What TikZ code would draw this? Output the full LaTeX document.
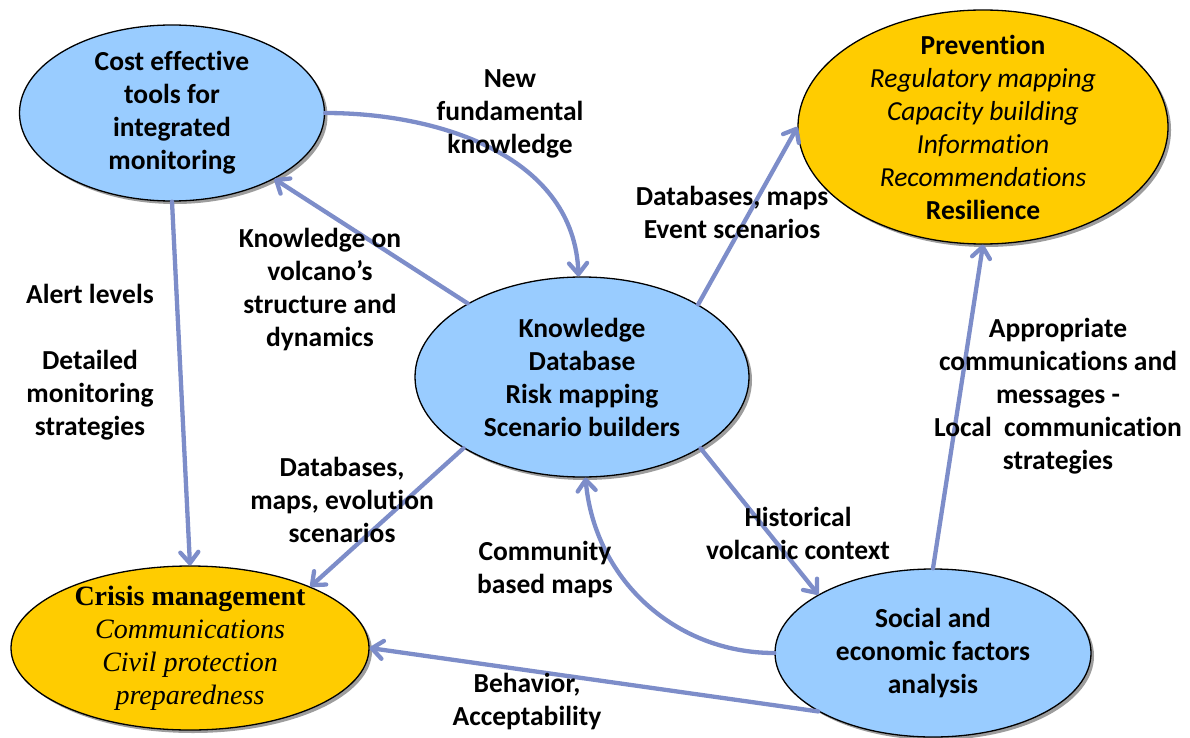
\documentclass[tikz,border=0pt]{standalone}
\usepackage{fontspec}
\setmainfont[Ligatures={NoCommon}]{Carlito}
\newfontfamily\timesf{Liberation Serif}
\usetikzlibrary{shapes.geometric,arrows.meta,shadows}
\definecolor{bluefill}{RGB}{153,204,255}
\definecolor{orfill}{RGB}{255,204,0}
\definecolor{arrc}{RGB}{125,141,201}
\begin{document}
\begin{tikzpicture}[x=1pt,y=1pt,
  ell/.style={ellipse, draw=black, line width=1.3pt, inner sep=0pt,
    drop shadow={shadow xshift=3pt,shadow yshift=-3pt,opacity=0.55,fill=black!70}},
  bell/.style={ell, fill=bluefill},
  oell/.style={ell, fill=orfill},
  txt/.style={font=\fontsize{27.5}{33}\selectfont\bfseries, align=center, inner sep=0pt},
  arr/.style={draw=arrc, line width=4.3pt, line cap=round,
    -{Straight Barb[length=11pt,width=18pt,round]}},
]
\useasboundingbox (0,0) rectangle (1190,-738);

% ellipses
\node[bell, minimum width=305pt, minimum height=176pt] (cost) at (172,-113) {};
\node[oell, minimum width=370pt, minimum height=234pt] (prev) at (983,-127) {};
\node[bell, minimum width=334pt, minimum height=200pt] (know) at (582,-377) {};
\node[oell, minimum width=358pt, minimum height=164pt] (crisis) at (190,-648) {};
\node[bell, minimum width=316pt, minimum height=168pt] (social) at (933,-653) {};

% connectors
\draw[arr] (cost.0) to[out=0,in=92] (know.92);
\draw[arr] (know) -- (cost);
\draw[arr] (cost.south) -- (crisis.north);
\draw[arr] (know.32) -- (prev.180);
\draw[arr] (know.211) -- (crisis.27);
\draw[arr] (know.329) -- (social.153);
\draw[arr] (social.180) to[out=180,in=-85] (know.-88);
\draw[arr] (social.north) -- (prev.south);
\draw[arr] (social.207) -- (crisis.0);

% ellipse texts
\node[txt] (costtxt) at (cost.center) {Cost effective\\tools for\\integrated\\monitoring};
\node[txt] (prevtxt) at (prev.center) {Prevention\\{\mdseries\itshape Regulatory mapping}\\{\mdseries\itshape Capacity building}\\{\mdseries\itshape Information}\\{\mdseries\itshape Recommendations}\\Resilience};
\node[txt] (knowtxt) at (know.center) {Knowledge\\Database\\Risk mapping\\Scenario builders};
\node[txt, font=\fontsize{28}{33}\selectfont\timesf] (crisistxt) at (crisis.center) {\textbf{Crisis management}\\\textit{Communications}\\\textit{Civil protection}\\\textit{preparedness}};
\node[txt] (socialtxt) at (social.center) {Social and\\economic factors\\analysis};

% connector labels
\node[txt] (l1) at (510,-114) {New\\fundamental\\knowledge};
\node[txt] (l2) at (320,-290) {Knowledge on\\volcano’s\\structure and\\dynamics};
\node[txt] (l3) at (90,-362) {Alert levels\\[33pt]Detailed\\monitoring\\strategies};
\node[txt] (l4) at (732,-212) {Databases, maps\\Event scenarios};
\node[txt] (l5) at (1058,-396) {Appropriate\\communications and\\messages -\\Local\ \ communication\\strategies};
\node[txt] (l6) at (342,-500) {Databases,\\maps, evolution\\scenarios};
\node[txt] (l7) at (798,-533) {Historical\\volcanic context};
\node[txt] (l8) at (545,-570) {Community\\based maps};
\node[txt] (l9) at (527,-702) {Behavior,\\Acceptability};
\end{tikzpicture}
\end{document}
